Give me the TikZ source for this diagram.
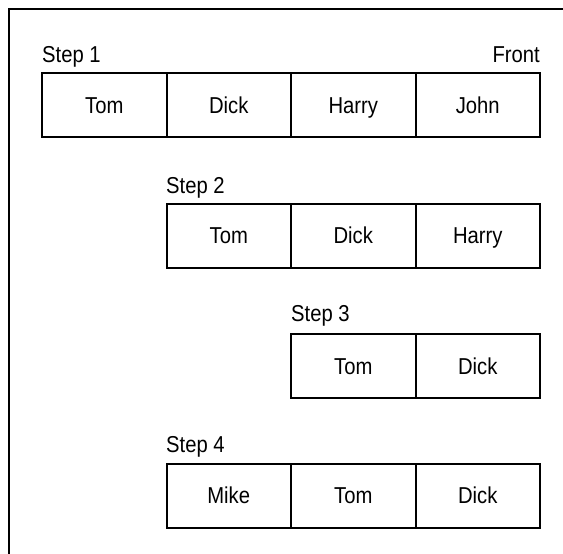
\documentclass[tikz,border=0pt]{standalone}
\usepackage{fontspec}
\setmainfont[FakeStretch=0.88]{Liberation Sans}
\begin{document}
\begin{tikzpicture}[x=1pt,y=-1pt,
  cell/.style={draw, line width=2pt, minimum width=124.5pt, minimum height=64pt, inner sep=0pt, text height=16.5pt, text depth=0pt, font=\fontsize{23}{25}\selectfont},
  lbl/.style={inner sep=0pt, font=\fontsize{23}{25}\selectfont}]
\useasboundingbox (0,0) rectangle (563,554);
\draw[line width=1.5pt] (9,554) -- (9,9) -- (563,9);
% Step 1
\node[lbl, anchor=base west] (s1) at (42,63) {Step 1};
\node[lbl, anchor=base east] (front) at (540,63) {Front};
\node[cell] (r1a) at (104.25,105) {Tom};
\node[cell] (r1b) at (228.75,105) {Dick};
\node[cell] (r1c) at (353.25,105) {Harry};
\node[cell] (r1d) at (477.75,105) {John};
% Step 2
\node[lbl, anchor=base west] (s2) at (166,193) {Step 2};
\node[cell] (r2a) at (228.75,235.5) {Tom};
\node[cell] (r2b) at (353.25,235.5) {Dick};
\node[cell] (r2c) at (477.75,235.5) {Harry};
% Step 3
\node[lbl, anchor=base west] (s3) at (291,321) {Step 3};
\node[cell] (r3a) at (353.25,366) {Tom};
\node[cell] (r3b) at (477.75,366) {Dick};
% Step 4
\node[lbl, anchor=base west] (s4) at (166,452) {Step 4};
\node[cell] (r4a) at (228.75,495.5) {Mike};
\node[cell] (r4b) at (353.25,495.5) {Tom};
\node[cell] (r4c) at (477.75,495.5) {Dick};
\end{tikzpicture}
\end{document}
